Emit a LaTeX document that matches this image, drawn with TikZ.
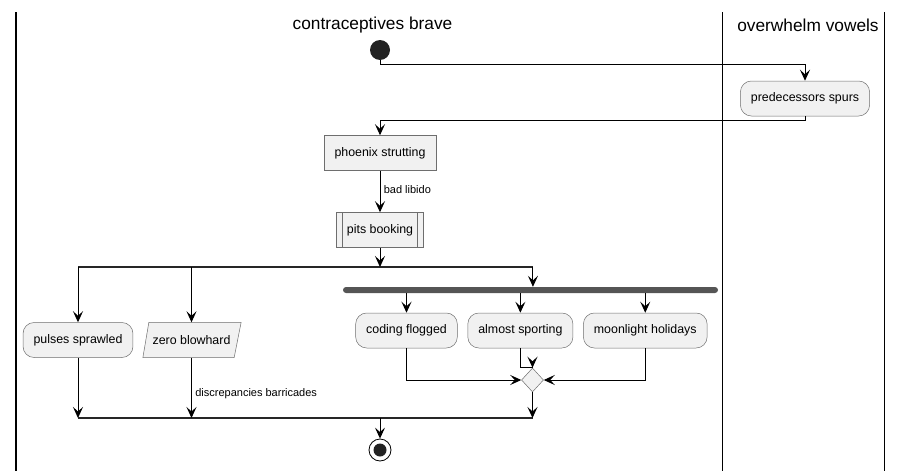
\documentclass[tikz,border=0pt]{standalone}
\usepackage{fontspec}
\setmainfont{Liberation Sans}
\usetikzlibrary{positioning,shapes.geometric,arrows.meta,backgrounds}
\definecolor{boxfill}{HTML}{F1F1F1}
\definecolor{boxline}{HTML}{6E6E6E}
\definecolor{barfill}{HTML}{555555}
\definecolor{dotfill}{HTML}{222222}

\begin{document}
\begin{tikzpicture}[
    x=1pt, y=-1pt,
    every node/.style={font=\fontsize{12.4}{15}\selectfont},
    act/.style={draw=boxline, fill=boxfill, line width=0.5pt, rounded corners=11pt, minimum height=35pt, inner xsep=10.5pt, inner ysep=0pt},
    plainbox/.style={act, sharp corners},
    subbox/.style={plainbox, path picture={
        \draw[boxline, line width=0.5pt] ([xshift=6pt]path picture bounding box.north west) -- ([xshift=6pt]path picture bounding box.south west);
        \draw[boxline, line width=0.5pt] ([xshift=-6pt]path picture bounding box.north east) -- ([xshift=-6pt]path picture bounding box.south east);}},
    inbox/.style={minimum height=35pt, inner xsep=3.5pt, inner ysep=0pt},
    slanted/.style={draw=boxline, fill=boxfill, line width=0.5pt},
    merge/.style={draw=boxline, fill=boxfill, line width=0.5pt, diamond, minimum width=22pt, minimum height=24pt, inner sep=0pt},
    startdot/.style={circle, fill=dotfill, minimum size=20pt, inner sep=0pt},
    stopdot/.style={circle, draw=black, fill=white, line width=0.8pt, minimum size=22pt, inner sep=0pt, path picture={\fill[dotfill] (path picture bounding box.center) circle (6.5pt);}},
    forkbar/.style={fill=barfill, rounded corners=3pt, minimum height=6pt, inner sep=0pt},
    splitbar/.style={fill=black!85, minimum height=1.6pt, inner sep=0pt},
    lanetitle/.style={font=\fontsize{17.3}{20}\selectfont},
    edgelabel/.style={font=\fontsize{11}{13}\selectfont},
    arrow/.style={-{Stealth[length=11pt, width=10pt, inset=4.5pt]}, line width=1pt},
    lane/.style={line width=1.4pt}
]
\useasboundingbox (0,0) rectangle (903,471);

% Swimlanes
\draw[lane] (16,12) -- (16,471);
\draw[lane] (722.5,12) -- (722.5,471);
\draw[lane] (884.5,12) -- (884.5,471);
\node[lanetitle] (titleA) at (372.5,25) {contraceptives brave};
\node[lanetitle] (titleB) at (808,25) {overwhelm vowels};

% Activities
\node[startdot] (start) at (380,50) {};
\node[act] (pred) at (805,98.5) {predecessors spurs};
\node[plainbox] (phx) at (380,153) {phoenix strutting};
\node[subbox, below=41.5pt of phx] (pits) {pits booking};
\node[splitbar, minimum width=455pt] (split) at (305.25,267) {};
\node[act] (pulses) at (78,340) {pulses sprawled};
\node[inbox] (zero) at (191.5,340) {zero blowhard};
\node[forkbar, minimum width=375pt] (fork) at (530.5,290) {};
\node[act] (cod) at (406.5,330.5) {coding flogged};
\node[act, right=10pt of cod] (alm) {almost sporting};
\node[act, right=10pt of alm] (moon) {moonlight holidays};
\node[merge] (mrg) at (532.5,380) {};
\node[splitbar, minimum width=455pt] (join) at (305.25,418) {};
\node[stopdot] (stop) at (380,450) {};

% input box outline
\begin{scope}[on background layer]
\draw[slanted] ([xshift=-6pt]zero.south west) -- (zero.north west)
  -- ([xshift=7pt]zero.north east) -- (zero.south east) -- cycle;
\end{scope}

% Flow
\draw[arrow] (start.south) -- ++(0,4) -| (pred.north);
\draw[arrow] (pred.south) -- ++(0,4) -| (phx.north);
\draw[arrow] (phx) -- node[edgelabel, right, pos=0.45] {bad libido} (pits);
\draw[arrow] (pits) -- (pits |- split.center);

% Split
\draw[arrow] (split.center -| pulses) -- (pulses);
\draw[arrow] (split.center -| zero) -- (zero);
\draw[arrow] (split.east) -- (split.east |- fork.north);

% Fork and merge
\draw[arrow] (fork.south -| cod) -- (cod);
\draw[arrow] (fork.south -| alm) -- (alm);
\draw[arrow] (fork.south -| moon) -- (moon);
\draw[arrow] (cod) |- (mrg);
\draw[arrow] (alm.south) -- ++(0,19) -| (mrg.north);
\draw[arrow] (moon) |- (mrg);

% Join
\draw[arrow] (pulses) -- (pulses |- join.center);
\draw[arrow] (zero) -- node[edgelabel, right, pos=0.59] {discrepancies barricades} (zero |- join.center);
\draw[arrow] (mrg) -- (mrg |- join.center);
\draw[arrow] (join.center -| stop) -- (stop);

\end{tikzpicture}
\end{document}
